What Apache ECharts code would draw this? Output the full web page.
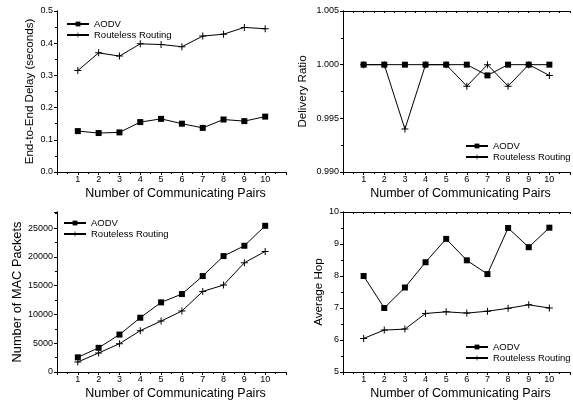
<!DOCTYPE html>
<html><head><meta charset="utf-8">
<script src="https://cdn.jsdelivr.net/npm/echarts@6/dist/echarts.min.js"></script>
<style>html,body{margin:0;padding:0;background:#fff}#c{width:573px;height:404px}</style>
</head><body><div id="c"></div>
<script>
const pairs = [1,2,3,4,5,6,7,8,9,10];
const seriesNames = ['AODV','Routeless Routing'];
const delayAODV = [0.127,0.121,0.123,0.155,0.165,0.150,0.137,0.163,0.158,0.172];
const delayRouteless = [0.315,0.370,0.360,0.398,0.396,0.389,0.422,0.428,0.449,0.445];
const ratioAODV = [1.000,1.000,1.000,1.000,1.000,1.000,0.999,1.000,1.000,1.000];
const ratioRouteless = [1.000,1.000,0.994,1.000,1.000,0.998,1.000,0.998,1.000,0.999];
const macAODV = [2550,4200,6500,9430,12100,13540,16670,20140,21930,25400];
const macRouteless = [1740,3300,4920,7180,8850,10590,14000,15100,18980,20950];
const hopAODV = [8.0,7.0,7.64,8.43,9.16,8.49,8.06,9.5,8.9,9.51];
const hopRouteless = [6.05,6.31,6.34,6.83,6.88,6.84,6.9,6.99,7.1,7.0];
const xTitle = 'Number of Communicating Pairs';
const yTitles = ['End-to-End Delay (seconds)','Delivery Ratio','Number of MAC Packets','Average Hop'];

const FONT = 'Liberation Sans, Arial, sans-serif';
const panels = [
  {grid:{left:57,top:11,width:229,height:161}, y:{min:0,max:0.5,interval:0.1,fmt:v=>v.toFixed(1)}, gap:21, fs:11.6, a:delayAODV, r:delayRouteless, legend:{left:66,top:19}},
  {grid:{left:343,top:11,width:229,height:161}, y:{min:0.99,max:1.005,interval:0.005,fmt:v=>v.toFixed(3)}, gap:34, fs:11.6, a:ratioAODV, r:ratioRouteless, legend:{left:465,top:141}},
  {grid:{left:57,top:212,width:229,height:160}, y:{min:0,max:27800,interval:5000,fmt:v=>(Math.abs(v/5000-Math.round(v/5000))<1e-6?String(Math.round(v)):'')}, gap:30, fs:12.8, a:macAODV, r:macRouteless, legend:{left:63,top:218}},
  {grid:{left:343,top:212,width:229,height:160}, y:{min:5,max:10,interval:1,fmt:v=>String(Math.round(v))}, gap:16, fs:11.6, a:hopAODV, r:hopRouteless, legend:{left:465,top:342}}
];

const cross = 'path://M3,0H4V3H7V4H4V7H3V4H0V3H3Z';
const axLine = {show:true,lineStyle:{color:'#000',width:1}};
const opt = {animation:false, backgroundColor:'#fff', grid:[], xAxis:[], yAxis:[], series:[], legend:[]};
panels.forEach((p,i)=>{
  opt.grid.push(Object.assign({containLabel:false},p.grid));
  opt.xAxis.push({type:'value',gridIndex:i,min:0,max:11,interval:1,position:'bottom',
    name:xTitle,nameLocation:'middle',nameGap:15.5,nameTextStyle:{fontFamily:FONT,fontSize:12.5,color:'#000',padding:[0,0,0,8]},
    axisLine:axLine,axisTick:{show:true,inside:false,length:3,lineStyle:{color:'#000'}},
    minorTick:{show:true,splitNumber:2,length:2,lineStyle:{color:'#000'}},
    splitLine:{show:false},
    axisLabel:{fontFamily:FONT,fontSize:9,color:'#000',margin:3,formatter:v=>(v>=1&&v<=10)?String(v):''}});
  opt.xAxis.push({type:'value',gridIndex:i,min:0,max:11,interval:0.5,position:'top',
    axisLine:axLine,axisTick:{show:true,inside:true,length:2,lineStyle:{color:'#000'}},
    splitLine:{show:false},axisLabel:{show:false}});
  opt.yAxis.push({type:'value',gridIndex:i,min:p.y.min,max:p.y.max,interval:p.y.interval,position:'left',
    name:yTitles[i],nameLocation:'middle',nameGap:p.gap,nameTextStyle:{fontFamily:FONT,fontSize:p.fs,color:'#000'},
    axisLine:axLine,axisTick:{show:true,inside:false,length:3,lineStyle:{color:'#000'}},
    minorTick:{show:true,splitNumber:2,length:2,lineStyle:{color:'#000'}},
    splitLine:{show:false},
    axisLabel:{fontFamily:FONT,fontSize:9,color:'#000',margin:4,showMaxLabel:i!==2,formatter:p.y.fmt}});
  opt.yAxis.push({type:'value',gridIndex:i,min:p.y.min,max:p.y.max,interval:p.y.interval/2,position:'right',
    axisLine:axLine,axisTick:{show:true,inside:true,length:2,lineStyle:{color:'#000'}},
    splitLine:{show:false},axisLabel:{show:false}});
  const mk = (name,vals,sym,size)=>({type:'line',name:name,xAxisIndex:2*i,yAxisIndex:2*i,
    data:pairs.map((x,k)=>[x,vals[k]]),symbol:sym,symbolSize:size,showSymbol:true,
    lineStyle:{color:'#000',width:1},itemStyle:{color:'#000'},emphasis:{disabled:true},z:3});
  opt.series.push(mk(seriesNames[0],p.a,'rect',6));
  opt.series.push(mk(seriesNames[1],p.r,cross,7));
  opt.legend.push({left:p.legend.left,top:p.legend.top,orient:'vertical',itemWidth:22,itemHeight:6,itemGap:1,padding:0,
    data:seriesNames,textStyle:{fontFamily:FONT,fontSize:9.5,lineHeight:9,color:'#000'},
    inactiveColor:'#000',selectedMode:false});
});
const chart = echarts.init(document.getElementById('c'),null,{renderer:'canvas'});
chart.setOption(opt);
</script></body></html>
